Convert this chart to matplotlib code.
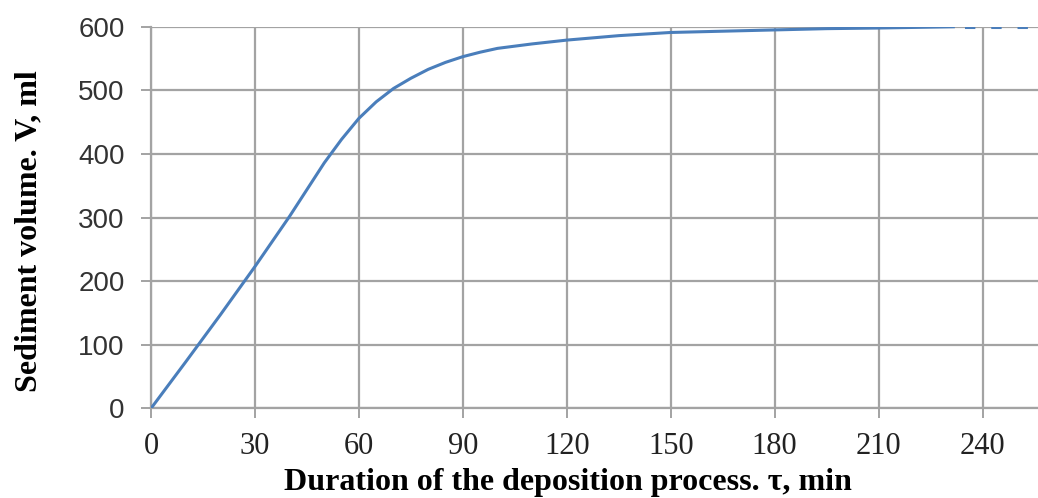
import matplotlib.pyplot as plt

# duration of the deposition process, min
tau = [0, 10, 20, 30, 40, 50, 55, 60, 65, 70, 75, 80, 85, 90, 95, 100,
       110, 120, 135, 150, 165, 180, 195, 210, 232]
# sediment volume, ml
vol = [0, 73, 147, 223, 302, 386, 423, 456, 482, 503, 519, 533, 544, 553, 560, 566,
       573, 579, 586, 591, 593, 595, 597, 598, 600]
# extrapolated plateau (dashed)
tau_ext = [232, 256]
vol_ext = [600, 600]

x_ticks = [0, 30, 60, 90, 120, 150, 180, 210, 240]
y_ticks = [0, 100, 200, 300, 400, 500, 600]

blue = '#4a7ebb'
grey = '#a3a3a3'

fig = plt.figure(figsize=(10.38, 4.98), dpi=100)
ax = fig.add_axes([0.1455, 0.180, 0.8545, 0.7663])

ax.plot(tau, vol, color=blue, lw=2.2, solid_capstyle='butt',
        solid_joinstyle='round', zorder=3)
ax.plot(tau_ext, vol_ext, color=blue, lw=2.2, linestyle=(5.5, (3.4, 5.2)), zorder=3)

ax.set_xlim(0, 256)
ax.set_ylim(0, 600)
ax.set_xticks(x_ticks)
ax.set_yticks(y_ticks)
ax.grid(True, color=grey, lw=1.6)
ax.set_axisbelow(True)

for s in ['top', 'right']:
    ax.spines[s].set_visible(False)
for s in ['left', 'bottom']:
    ax.spines[s].set_color(grey)
    ax.spines[s].set_linewidth(1.6)
ax.tick_params(axis='both', direction='out', length=7, width=1.4, color=grey)
ax.tick_params(axis='x', pad=10)
ax.tick_params(axis='y', pad=12)

for lab in ax.get_xticklabels():
    lab.set_family('Liberation Serif')
    lab.set_fontsize(22)
    lab.set_color('#222222')
for lab in ax.get_yticklabels():
    lab.set_family('Liberation Sans')
    lab.set_fontsize(20)
    lab.set_color('#333333')

ax.set_xlabel('Duration of the deposition process. \u03c4, min', family='Liberation Serif',
              fontweight='bold', fontsize=23)
ax.set_ylabel('Sediment volume. V, ml', family='Liberation Serif',
              fontweight='bold', fontsize=23)
ax.xaxis.set_label_coords(0.4695, -0.157)
ax.yaxis.set_label_coords(-0.121, 0.465)

fig.savefig('out.png', dpi=100)
